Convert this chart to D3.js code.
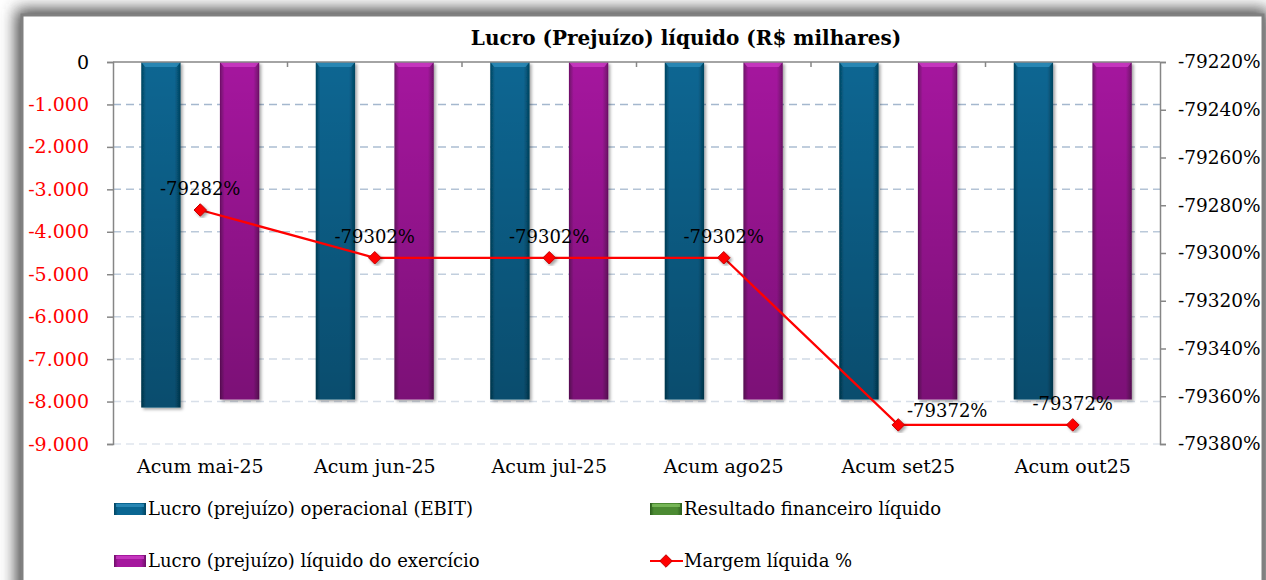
<!DOCTYPE html>
<html>
<head>
<meta charset="utf-8">
<script src="https://cdn.jsdelivr.net/npm/d3@7"></script>
<style>
  body { margin: 0; background: #fff; }
  text { font-family: "DejaVu Serif", serif; }
</style>
</head>
<body>
<script>
// Lucro (Prejuizo) liquido - bars on left axis, margem % line on right axis

var width = 1266;
var height = 580;

var categories = ["Acum mai-25", "Acum jun-25", "Acum jul-25", "Acum ago25", "Acum set25", "Acum out25"];
var ebit = [-8140, -7950, -7950, -7950, -7950, -7950];
var financeiro = [0, 0, 0, 0, 0, 0];
var liquido = [-7950, -7950, -7950, -7950, -7950, -7950];
var margem = [-79282, -79302, -79302, -79302, -79372, -79372];

var leftTicks = [0, -1000, -2000, -3000, -4000, -5000, -6000, -7000, -8000, -9000];
var rightTicks = [-79220, -79240, -79260, -79280, -79300, -79320, -79340, -79360, -79380];

var seriesNames = ["Lucro (prejuízo) operacional (EBIT)", "Resultado financeiro líquido", "Lucro (prejuízo) líquido do exercício"];
var seriesValues = [ebit, financeiro, liquido];
var seriesGrad = ["gBlue", "gGreen", "gPink"];
var lineName = "Margem líquida %";

var plot = { left: 113, right: 1160, top: 62, bottom: 444 };

// excel nudged the set25 label right to avoid the neighbour
var labelNudge = [[0, 0], [0, 0], [0, 0], [0, 0], [49, 7], [0, 0]];

var ptBR = d3.formatLocale({ decimal: ",", thousands: ".", grouping: [3], currency: ["R$", ""], minus: "-" });
var fmtLeft = ptBR.format(",d");

var svg = d3.select("body")
            .append("svg")
            .attr("width", width)
            .attr("height", height);

var defs = svg.append("defs");

// shadow round the chart frame
var glow = defs.append("filter").attr("id", "glow")
  .attr("x", -0.05).attr("y", -0.1).attr("width", 1.1).attr("height", 1.2);
glow.append("feGaussianBlur").attr("in", "SourceGraphic").attr("stdDeviation", 8);

var barShadow = defs.append("filter").attr("id", "barShadow")
  .attr("x", -0.2).attr("y", -0.1).attr("width", 1.5).attr("height", 1.2);
barShadow.append("feDropShadow").attr("dx", 2).attr("dy", 2)
  .attr("stdDeviation", 1.5).attr("flood-color", "#000").attr("flood-opacity", 0.35);

function barGradient(id, edge, mid) {
  var g = defs.append("linearGradient").attr("id", id)
    .attr("x1", 0).attr("y1", 0).attr("x2", 1).attr("y2", 0);
  g.append("stop").attr("offset", "0%").attr("stop-color", edge);
  g.append("stop").attr("offset", "12%").attr("stop-color", mid);
  g.append("stop").attr("offset", "85%").attr("stop-color", mid);
  g.append("stop").attr("offset", "100%").attr("stop-color", edge);
}
barGradient("gBlue", "#03445f", "#0a6692");
barGradient("gGreen", "#2a5c1c", "#4b8a32");
barGradient("gPink", "#6d1067", "#a5189e");

// bars get darker towards the bottom
var shade = defs.append("linearGradient").attr("id", "shade")
  .attr("x1", 0).attr("y1", 0).attr("x2", 0).attr("y2", 1);
shade.append("stop").attr("offset", "0%").attr("stop-color", "#000").attr("stop-opacity", 0);
shade.append("stop").attr("offset", "100%").attr("stop-color", "#000").attr("stop-opacity", 0.25);

var topColor = { gBlue: "#2f8fbc", gGreen: "#7fbf5f", gPink: "#cc3fc4" };

var gridGrad = defs.append("linearGradient").attr("id", "gridGrad")
  .attr("gradientUnits", "userSpaceOnUse")
  .attr("x1", 0).attr("y1", plot.top).attr("x2", 0).attr("y2", plot.bottom);
gridGrad.append("stop").attr("offset", "0%").attr("stop-color", "#9db2ca");
gridGrad.append("stop").attr("offset", "100%").attr("stop-color", "#dfe5ed");

// frame
svg.append("rect")
   .attr("x", 16).attr("y", 9)
   .attr("width", 1252).attr("height", 620)
   .attr("fill", "#444")
   .attr("filter", "url(#glow)");
svg.append("rect")
   .attr("x", 22).attr("y", 15)
   .attr("width", 1241).attr("height", 620)
   .attr("fill", "#fff")
   .attr("stroke", "#808080")
   .attr("stroke-width", 3);

svg.append("text")
   .attr("x", 686).attr("y", 45)
   .attr("text-anchor", "middle")
   .attr("font-size", "20px")
   .attr("font-weight", "bold")
   .text("Lucro (Prejuízo) líquido (R$ milhares)");

var xScale = d3.scaleBand()
               .domain(categories)
               .range([plot.left, plot.right]);

var subScale = d3.scaleBand()
                 .domain(d3.range(seriesNames.length))
                 .range([-59, 59]);

var yLeft = d3.scaleLinear()
              .domain([-9000, 0])
              .range([plot.bottom, plot.top]);

var yRight = d3.scaleLinear()
               .domain([-79380, -79220])
               .range([plot.bottom, plot.top]);

// gridlines
svg.append("g")
   .selectAll("line")
   .data(leftTicks.filter(function(d){ return d !== 0; }))
   .enter()
   .append("line")
   .attr("x1", plot.left).attr("x2", plot.right)
   .attr("y1", function(d){ return yLeft(d); })
   .attr("y2", function(d){ return yLeft(d); })
   .attr("stroke", "url(#gridGrad)")
   .attr("stroke-width", 1.5)
   .attr("stroke-dasharray", "8,5");

// bars
var groups = svg.append("g")
  .selectAll("g")
  .data(seriesValues)
  .enter()
  .append("g");

groups.each(function(vals, si){
  var g = d3.select(this);
  var bars = g.selectAll("g")
    .data(vals)
    .enter()
    .append("g")
    .filter(function(d){ return d !== 0; });
  bars.append("rect")
    .attr("x", function(d, i){ return xScale(categories[i]) + xScale.bandwidth() / 2 + subScale(si); })
    .attr("y", yLeft(0))
    .attr("width", subScale.bandwidth())
    .attr("height", function(d){ return yLeft(d) - yLeft(0); })
    .attr("fill", "url(#" + seriesGrad[si] + ")")
    .attr("filter", "url(#barShadow)");
  bars.append("rect")
    .attr("x", function(d, i){ return xScale(categories[i]) + xScale.bandwidth() / 2 + subScale(si); })
    .attr("y", yLeft(0))
    .attr("width", subScale.bandwidth())
    .attr("height", function(d){ return yLeft(d) - yLeft(0); })
    .attr("fill", "url(#shade)");
  bars.append("path")
    .attr("d", function(d, i){
      var x0 = xScale(categories[i]) + xScale.bandwidth() / 2 + subScale(si);
      var w = subScale.bandwidth();
      var y0 = yLeft(0);
      return "M" + x0 + "," + y0 + "H" + (x0 + w) + "L" + (x0 + w - 4) + "," + (y0 + 5) +
             "H" + (x0 + 4) + "Z";
    })
    .attr("fill", topColor[seriesGrad[si]])
    .attr("opacity", 0.8);
});

// axes
var axisColor = "#868686";

var leftAxis = svg.append("g")
  .attr("transform", "translate(" + plot.left + ",0)")
  .call(d3.axisLeft(yLeft).tickValues(leftTicks).tickSize(6).tickPadding(18).tickFormat(fmtLeft));
leftAxis.select(".domain").attr("stroke", axisColor).attr("stroke-width", 1.5);
leftAxis.selectAll(".tick line").attr("stroke", axisColor).attr("stroke-width", 1.5);
leftAxis.selectAll(".tick text")
  .attr("font-family", "DejaVu Serif, serif")
  .attr("font-size", "19px")
  .attr("fill", function(d){ return d < 0 ? "#ff0000" : "#000"; });

var rightAxis = svg.append("g")
  .attr("transform", "translate(" + plot.right + ",0)")
  .call(d3.axisRight(yRight).tickValues(rightTicks).tickSize(6).tickPadding(12)
          .tickFormat(function(d){ return d + "%"; }));
rightAxis.select(".domain").attr("stroke", axisColor).attr("stroke-width", 1.5);
rightAxis.selectAll(".tick line").attr("stroke", axisColor).attr("stroke-width", 1.5);
rightAxis.selectAll(".tick text")
  .attr("font-family", "DejaVu Serif, serif")
  .attr("font-size", "18.5px")
  .attr("fill", "#000");

// category axis sits on zero, labels at the bottom
svg.append("line")
   .attr("x1", plot.left).attr("x2", plot.right)
   .attr("y1", yLeft(0)).attr("y2", yLeft(0))
   .attr("stroke", axisColor).attr("stroke-width", 1.5);
svg.append("g")
   .selectAll("line")
   .data(categories.slice(1))
   .enter()
   .append("line")
   .attr("x1", function(d){ return xScale(d); })
   .attr("x2", function(d){ return xScale(d); })
   .attr("y1", yLeft(0)).attr("y2", yLeft(0) + 5)
   .attr("stroke", axisColor).attr("stroke-width", 1.5);

svg.append("g")
   .selectAll("text")
   .data(categories)
   .enter()
   .append("text")
   .attr("x", function(d){ return xScale(d) + xScale.bandwidth() / 2; })
   .attr("y", 473)
   .attr("text-anchor", "middle")
   .attr("font-size", "19px")
   .text(function(d){ return d; });

// margem line
var line = d3.line()
  .x(function(d, i){ return xScale(categories[i]) + xScale.bandwidth() / 2; })
  .y(function(d){ return yRight(d); });

svg.append("path")
   .datum(margem)
   .attr("d", line)
   .attr("fill", "none")
   .attr("stroke", "#ff0000")
   .attr("stroke-width", 2.25);

var diamond = d3.symbol().type(d3.symbolDiamond2).size(100);

svg.append("g")
   .selectAll("path")
   .data(margem)
   .enter()
   .append("path")
   .attr("d", diamond)
   .attr("transform", function(d, i){
     return "translate(" + (xScale(categories[i]) + xScale.bandwidth() / 2) + "," + yRight(d) + ")";
   })
   .attr("fill", "#ff0000")
   .attr("stroke", "#c00000")
   .attr("stroke-width", 1)
   .attr("filter", "url(#barShadow)");

svg.append("g")
   .selectAll("text")
   .data(margem)
   .enter()
   .append("text")
   .attr("x", function(d, i){ return xScale(categories[i]) + xScale.bandwidth() / 2 + labelNudge[i][0]; })
   .attr("y", function(d, i){ return yRight(d) - 15 + labelNudge[i][1]; })
   .attr("text-anchor", "middle")
   .attr("font-size", "18px")
   .text(function(d){ return d + "%"; });

// legend
var legendItems = [
  { name: seriesNames[0], kind: "bar", grad: "gBlue", x: 114, y: 509 },
  { name: seriesNames[1], kind: "bar", grad: "gGreen", x: 650, y: 509 },
  { name: seriesNames[2], kind: "bar", grad: "gPink", x: 114, y: 561 },
  { name: lineName, kind: "line", x: 650, y: 561 }
];

var legend = svg.append("g")
  .selectAll("g")
  .data(legendItems)
  .enter()
  .append("g")
  .attr("transform", function(d){ return "translate(" + d.x + "," + d.y + ")"; });

legend.filter(function(d){ return d.kind === "bar"; })
  .append("rect")
  .attr("x", 0).attr("y", -6)
  .attr("width", 32).attr("height", 12)
  .attr("fill", function(d){ return "url(#" + d.grad + ")"; });
legend.filter(function(d){ return d.kind === "bar"; })
  .append("rect")
  .attr("x", 2).attr("y", -5)
  .attr("width", 28).attr("height", 3)
  .attr("fill", function(d){ return topColor[d.grad]; })
  .attr("opacity", 0.8);

legend.filter(function(d){ return d.kind === "line"; })
  .append("line")
  .attr("x1", 0).attr("x2", 33)
  .attr("y1", 0).attr("y2", 0)
  .attr("stroke", "#ff0000").attr("stroke-width", 2);
legend.filter(function(d){ return d.kind === "line"; })
  .append("path")
  .attr("d", diamond)
  .attr("transform", "translate(16,0)")
  .attr("fill", "#ff0000")
  .attr("stroke", "#c00000");

legend.append("text")
  .attr("x", 34).attr("y", 6)
  .attr("font-size", "18px")
  .text(function(d){ return d.name; });
</script>
</body>
</html>
